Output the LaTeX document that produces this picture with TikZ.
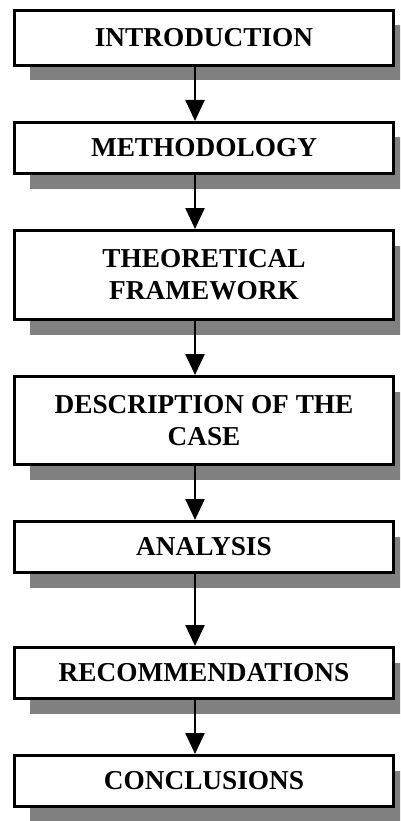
\documentclass[tikz,border=0pt]{standalone}
\usepackage{fontspec}
\setmainfont{Liberation Serif}
\usetikzlibrary{positioning,shadows,arrows.meta}

\begin{document}
\begin{tikzpicture}[x=1pt,y=1pt,node distance=54pt,>={Triangle[length=21pt,width=19pt]}]
\tikzstyle{block}=[rectangle,draw=black,line width=3pt,minimum height=51pt,minimum width=379pt,fill=white,align=center,font=\bfseries\fontsize{27.3}{32}\selectfont,drop shadow={shadow xshift=15pt,shadow yshift=-15pt,fill=black!50,opacity=1}]
\tikzstyle{link}=[->,line width=2.5pt]
\useasboundingbox[clip] (0,0) rectangle (400,-821);
\node[block,minimum height=55pt] (intro) at (204,-38) {INTRODUCTION};
\node[block,below=of intro] (method) {METHODOLOGY};
\node[block,below=of method,minimum height=89pt] (theory) {THEORETICAL\\FRAMEWORK};
\node[block,below=of theory,minimum height=88pt] (case) {DESCRIPTION OF THE\\CASE};
\node[block,below=of case] (analysis) {ANALYSIS};
\node[block,below=72pt of analysis] (recom) {RECOMMENDATIONS};
\node[block,below=of recom] (concl) {CONCLUSIONS};
\draw[link] ([xshift=-9pt]intro.south) -- ([xshift=-9pt]method.north);
\draw[link] ([xshift=-9pt]method.south) -- ([xshift=-9pt]theory.north);
\draw[link] ([xshift=-9pt]theory.south) -- ([xshift=-9pt]case.north);
\draw[link] ([xshift=-9pt]case.south) -- ([xshift=-9pt]analysis.north);
\draw[link] ([xshift=-9pt]analysis.south) -- ([xshift=-9pt]recom.north);
\draw[link] ([xshift=-9pt]recom.south) -- ([xshift=-9pt]concl.north);
\end{tikzpicture}
\end{document}
